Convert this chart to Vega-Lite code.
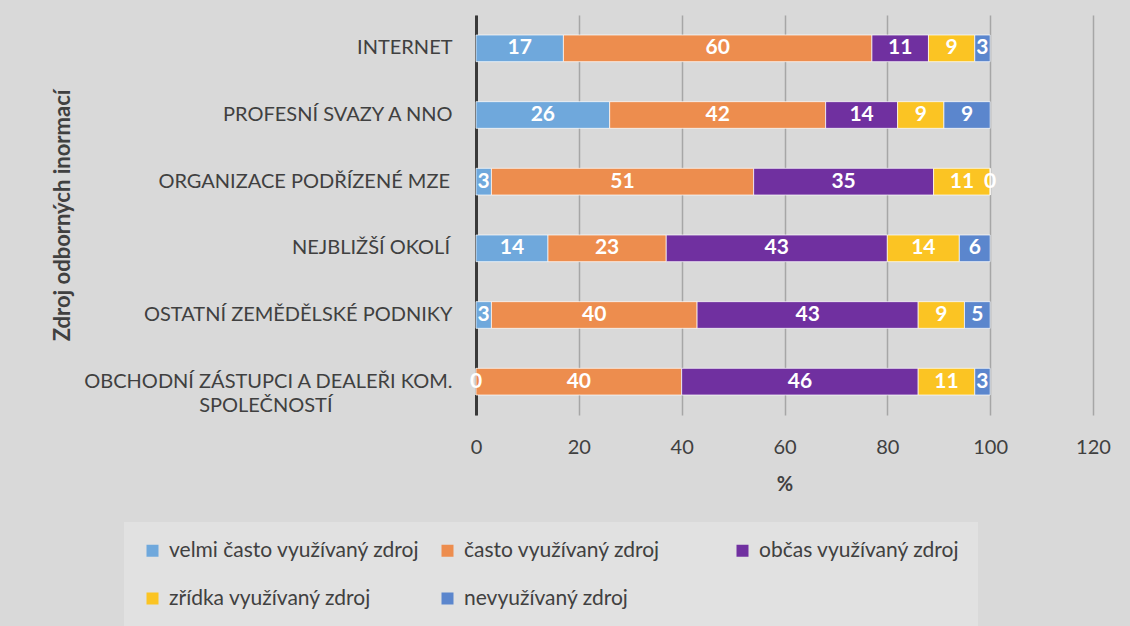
{
  "$schema": "https://vega.github.io/schema/vega-lite/v6.json",
  "width": 617,
  "height": 400,
  "autosize": {"type": "none"},
  "padding": {"left": 476, "top": 15, "right": 37, "bottom": 211},
  "background": "#d9d9d9",
  "config": {
    "font": "Lato",
    "view": {"stroke": null},
    "axis": {"labelFont": "Lato", "titleFont": "Lato"}
  },
  "data": {
    "values": [
      {"source": "INTERNET", "category": "velmi často využívaný zdroj", "k": 1, "value": 17},
      {"source": "INTERNET", "category": "často využívaný zdroj", "k": 2, "value": 60},
      {"source": "INTERNET", "category": "občas využívaný zdroj", "k": 3, "value": 11},
      {"source": "INTERNET", "category": "zřídka využívaný zdroj", "k": 4, "value": 9},
      {"source": "INTERNET", "category": "nevyužívaný zdroj", "k": 5, "value": 3},
      {"source": "PROFESNÍ SVAZY A NNO", "category": "velmi často využívaný zdroj", "k": 1, "value": 26},
      {"source": "PROFESNÍ SVAZY A NNO", "category": "často využívaný zdroj", "k": 2, "value": 42},
      {"source": "PROFESNÍ SVAZY A NNO", "category": "občas využívaný zdroj", "k": 3, "value": 14},
      {"source": "PROFESNÍ SVAZY A NNO", "category": "zřídka využívaný zdroj", "k": 4, "value": 9},
      {"source": "PROFESNÍ SVAZY A NNO", "category": "nevyužívaný zdroj", "k": 5, "value": 9},
      {"source": "ORGANIZACE PODŘÍZENÉ MZE", "category": "velmi často využívaný zdroj", "k": 1, "value": 3},
      {"source": "ORGANIZACE PODŘÍZENÉ MZE", "category": "často využívaný zdroj", "k": 2, "value": 51},
      {"source": "ORGANIZACE PODŘÍZENÉ MZE", "category": "občas využívaný zdroj", "k": 3, "value": 35},
      {"source": "ORGANIZACE PODŘÍZENÉ MZE", "category": "zřídka využívaný zdroj", "k": 4, "value": 11},
      {"source": "ORGANIZACE PODŘÍZENÉ MZE", "category": "nevyužívaný zdroj", "k": 5, "value": 0},
      {"source": "NEJBLIŽŠÍ OKOLÍ", "category": "velmi často využívaný zdroj", "k": 1, "value": 14},
      {"source": "NEJBLIŽŠÍ OKOLÍ", "category": "často využívaný zdroj", "k": 2, "value": 23},
      {"source": "NEJBLIŽŠÍ OKOLÍ", "category": "občas využívaný zdroj", "k": 3, "value": 43},
      {"source": "NEJBLIŽŠÍ OKOLÍ", "category": "zřídka využívaný zdroj", "k": 4, "value": 14},
      {"source": "NEJBLIŽŠÍ OKOLÍ", "category": "nevyužívaný zdroj", "k": 5, "value": 6},
      {"source": "OSTATNÍ ZEMĚDĚLSKÉ PODNIKY", "category": "velmi často využívaný zdroj", "k": 1, "value": 3},
      {"source": "OSTATNÍ ZEMĚDĚLSKÉ PODNIKY", "category": "často využívaný zdroj", "k": 2, "value": 40},
      {"source": "OSTATNÍ ZEMĚDĚLSKÉ PODNIKY", "category": "občas využívaný zdroj", "k": 3, "value": 43},
      {"source": "OSTATNÍ ZEMĚDĚLSKÉ PODNIKY", "category": "zřídka využívaný zdroj", "k": 4, "value": 9},
      {"source": "OSTATNÍ ZEMĚDĚLSKÉ PODNIKY", "category": "nevyužívaný zdroj", "k": 5, "value": 5},
      {"source": "OBCHODNÍ ZÁSTUPCI A DEALEŘI KOM. SPOLEČNOSTÍ", "category": "velmi často využívaný zdroj", "k": 1, "value": 0},
      {"source": "OBCHODNÍ ZÁSTUPCI A DEALEŘI KOM. SPOLEČNOSTÍ", "category": "často využívaný zdroj", "k": 2, "value": 40},
      {"source": "OBCHODNÍ ZÁSTUPCI A DEALEŘI KOM. SPOLEČNOSTÍ", "category": "občas využívaný zdroj", "k": 3, "value": 46},
      {"source": "OBCHODNÍ ZÁSTUPCI A DEALEŘI KOM. SPOLEČNOSTÍ", "category": "zřídka využívaný zdroj", "k": 4, "value": 11},
      {"source": "OBCHODNÍ ZÁSTUPCI A DEALEŘI KOM. SPOLEČNOSTÍ", "category": "nevyužívaný zdroj", "k": 5, "value": 3}
    ]
  },
  "transform": [
    {"stack": "value", "groupby": ["source"], "sort": [{"field": "k", "order": "ascending"}], "as": ["x0", "x1"]},
    {"calculate": "(datum.x0 + datum.x1) / 2", "as": "xmid"}
  ],
  "encoding": {
    "y": {
      "field": "source",
      "type": "nominal",
      "sort": null,
      "scale": {"paddingInner": 0.6, "paddingOuter": 0.3},
      "axis": {
        "title": "Zdroj odborných inormací",
        "titleFontSize": 22,
        "titleFontWeight": "bold",
        "titleColor": "#404040",
        "titleX": -414,
        "titleY": 200,
        "titleBaseline": "middle",
        "titleAlign": "center",
        "labelFontSize": 20,
        "labelColor": "#404040",
        "labelPadding": 24,
        "labelLimit": 500,
        "labelLineHeight": 24,
        "labelExpr": "datum.value == 'OBCHODNÍ ZÁSTUPCI A DEALEŘI KOM. SPOLEČNOSTÍ' ? ['OBCHODNÍ ZÁSTUPCI A DEALEŘI KOM.', 'SPOLEČNOSTÍ\u2003\u2003\u2003\u2003\u2003\u2003\u2003\u2003\u2060'] : (datum.value == 'ORGANIZACE PODŘÍZENÉ MZE' || datum.value == 'NEJBLIŽŠÍ OKOLÍ' ? datum.value + '\u2009\u2060' : datum.value)",
        "ticks": false,
        "domain": true,
        "domainColor": "#3a3a3a",
        "domainWidth": 3,
        "grid": false
      }
    }
  },
  "layer": [
    {
      "mark": {"type": "bar", "stroke": "#ffffff", "strokeWidth": 1, "strokeOpacity": 0.7},
      "encoding": {
        "x": {
          "field": "x0",
          "type": "quantitative",
          "scale": {"domain": [0, 120], "nice": false},
          "axis": {
            "title": "%",
            "titleFontSize": 20,
            "titleFontWeight": "bold",
            "titleColor": "#404040",
            "titlePadding": 17,
            "values": [0, 20, 40, 60, 80, 100, 120],
            "labelFontSize": 20,
            "labelColor": "#404040",
            "labelPadding": 22,
            "labelFlush": false,
            "ticks": false,
            "domain": false,
            "grid": true,
            "gridColor": "#a6a6a6",
            "gridWidth": 1.5
          }
        },
        "x2": {"field": "x1"},
        "color": {
          "field": "category",
          "type": "nominal",
          "scale": {
            "domain": ["velmi často využívaný zdroj", "často využívaný zdroj", "občas využívaný zdroj", "zřídka využívaný zdroj", "nevyužívaný zdroj"],
            "range": ["#6fa8dc", "#ed8d4e", "#7030a0", "#fbc423", "#5b86cd"]
          },
          "legend": {
            "title": null,
            "orient": "none",
            "legendX": -352,
            "legendY": 507,
            "columns": 3,
            "direction": "horizontal",
            "gridAlign": "all",
            "symbolType": "square",
            "symbolSize": 144,
            "symbolStrokeWidth": 0,
            "labelFontSize": 21,
            "labelColor": "#404040",
            "labelLimit": 400,
            "labelOffset": 6,
            "columnPadding": 17,
            "rowPadding": 26,
            "fillColor": "#e1e1e1",
            "padding": 18
          }
        }
      }
    },
    {
      "mark": {"type": "text", "color": "#ffffff", "fontWeight": "bold", "fontSize": 21, "font": "Lato"},
      "encoding": {
        "x": {"field": "xmid", "type": "quantitative"},
        "text": {"field": "value", "type": "quantitative"}
      }
    }
  ]
}
